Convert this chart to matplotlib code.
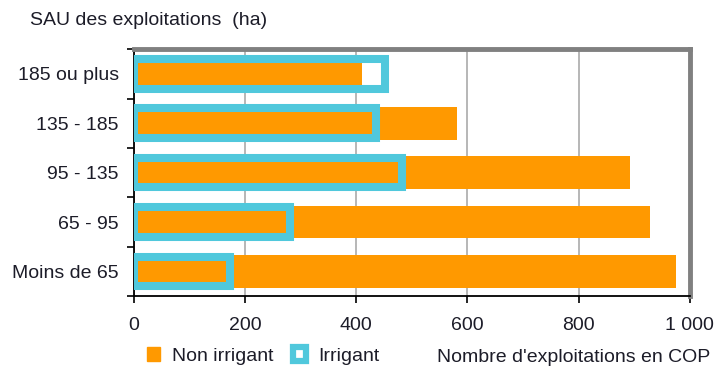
import matplotlib.pyplot as plt
from matplotlib.patches import Patch

plt.rcParams["font.family"] = ["Liberation Sans", "DejaVu Sans"]

# Size classes, bottom to top
classes = ["Moins de 65", "65 - 95", "95 - 135", "135 - 185", "185 ou plus"]
non_irrigant = [976, 928, 893, 581, 410]
irrigant = [173, 281, 482, 435, 452]
x_ticks = [0, 200, 400, 600, 800, 1000]
x_tick_labels = ["0", "200", "400", "600", "800", "1 000"]

ORANGE = "#ff9900"
CYAN = "#50c8dc"
TEXT = "#1c1c28"
FS = 14

fig = plt.figure(figsize=(7.17, 3.67), dpi=100)
ax = fig.add_axes([0.187, 0.193, 0.775, 0.673])

pos = range(len(classes))
ax.barh(pos, non_irrigant, height=0.66, color=ORANGE, zorder=2)
ax.barh(pos, irrigant, height=0.6, fill=False, edgecolor=CYAN,
        linewidth=5.8, zorder=3)

ax.set_xlim(0, 1000)
ax.set_ylim(-0.5, len(classes) - 0.5)

# Vertical grid lines
ax.set_xticks(x_ticks)
ax.set_xticklabels(x_tick_labels, fontsize=FS, color=TEXT)
ax.grid(axis="x", color="#aaaaaa", linewidth=1.2, zorder=1)
ax.tick_params(axis="x", direction="out", length=5, width=1.2, pad=10)

# Category labels centred, ticks on the boundaries
ax.set_yticks(list(pos))
ax.set_yticklabels(classes, fontsize=FS, color=TEXT)
ax.set_yticks([i - 0.5 for i in range(len(classes) + 1)], minor=True)
ax.tick_params(axis="y", which="major", length=0, pad=11)
ax.tick_params(axis="y", which="minor", direction="out", length=5, width=1.2)

for side in ("left", "bottom"):
    ax.spines[side].set_color("black")
    ax.spines[side].set_linewidth(1.3)
for side in ("top", "right"):
    ax.spines[side].set_color("#808080")
    ax.spines[side].set_linewidth(3.5)

fig.text(0.042, 0.945, "SAU des exploitations  (ha)", fontsize=FS,
         color=TEXT, va="center")
fig.text(0.99, 0.025, "Nombre d'exploitations en COP", fontsize=FS,
         color=TEXT, ha="right", va="center", transform=fig.transFigure)

handles = [
    Patch(facecolor=ORANGE, edgecolor=ORANGE, label="Non irrigant"),
    Patch(facecolor="white", edgecolor=CYAN, linewidth=4.5, label="Irrigant"),
]
fig.legend(handles=handles, loc="center left", bbox_to_anchor=(0.18, 0.03),
           ncol=2, frameon=False, fontsize=FS, handlelength=0.7,
           handleheight=0.7, handletextpad=0.6, columnspacing=1.0,
           labelcolor=TEXT)

fig.savefig("out.png", dpi=100)
